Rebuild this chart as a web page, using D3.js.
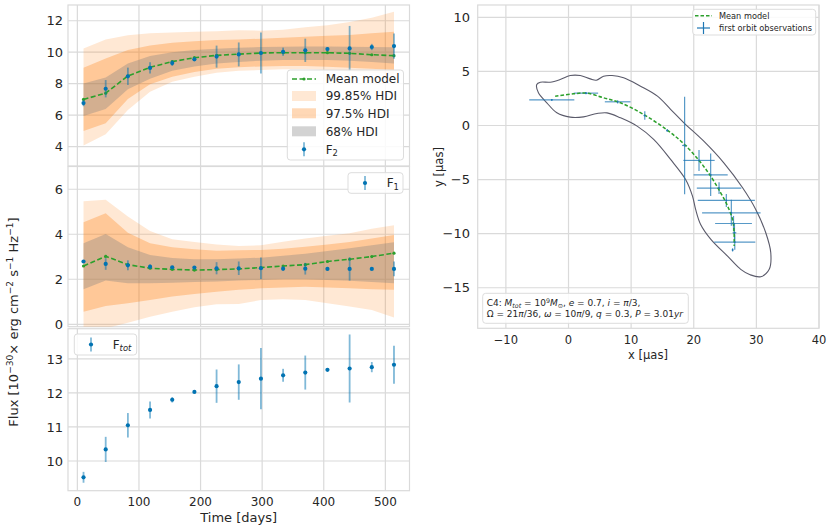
<!DOCTYPE html>
<html>
<head>
<meta charset="utf-8">
<script src="https://cdn.jsdelivr.net/npm/d3@7"></script>
<style>
  body { margin: 0; background: #fff; }
  text { font-family: "DejaVu Sans", sans-serif; fill: #262626; }
</style>
</head>
<body>
<div id="chart"></div>
<script>
// ---- data ----
const days = [10, 46, 82, 118, 154, 190, 226, 262, 298, 334, 370, 406, 442, 478, 514];

// F2 panel
const f2Obs = [6.77, 7.68, 8.47, 9.0, 9.31, 9.55, 9.72, 9.86, 9.95, 10.03, 10.12, 10.2, 10.24, 10.33, 10.39];
const f2Err = [0.2, 0.55, 0.55, 0.36, 0.18, 0.1, 0.7, 0.76, 1.31, 0.26, 0.74, 0.1, 1.43, 0.2, 0.8];
const f2Mean = [7.0, 7.4, 8.49, 9.04, 9.4, 9.65, 9.8, 9.88, 9.95, 9.97, 9.97, 9.97, 9.93, 9.84, 9.78];
const f2Lo68 = [5.95, 6.39, 7.64, 8.32, 8.83, 9.1, 9.29, 9.38, 9.46, 9.5, 9.5, 9.5, 9.46, 9.38, 9.29];
const f2Hi68 = [8.02, 8.4, 9.29, 9.76, 9.99, 10.14, 10.22, 10.29, 10.33, 10.35, 10.37, 10.37, 10.35, 10.33, 10.31];
const f2Lo975 = [5.0, 5.48, 7.03, 7.96, 8.44, 8.74, 8.95, 9.04, 9.1, 9.12, 9.12, 9.08, 9.02, 8.95, 8.87];
const f2Hi975 = [9.02, 9.6, 10.14, 10.43, 10.6, 10.7, 10.77, 10.81, 10.86, 10.92, 10.98, 11.05, 11.1, 11.2, 11.3];
const f2Lo9985 = [4.08, 4.78, 6.33, 7.49, 8.13, 8.44, 8.7, 8.83, 8.87, 8.91, 8.91, 8.87, 8.78, 8.7, 8.61];
const f2Hi9985 = [10.24, 10.81, 11.07, 11.2, 11.26, 11.3, 11.34, 11.39, 11.37, 11.43, 11.58, 11.72, 11.92, 12.19, 12.57];

// F1 panel
const f1Obs = [2.79, 2.68, 2.62, 2.56, 2.53, 2.52, 2.49, 2.49, 2.49, 2.47, 2.47, 2.46, 2.46, 2.46, 2.46];
const f1Err = [0.05, 0.26, 0.22, 0.1, 0.06, 0.06, 0.27, 0.3, 0.48, 0.1, 0.26, 0.04, 0.52, 0.05, 0.33];
const f1Mean = [2.59, 3.02, 2.65, 2.49, 2.44, 2.41, 2.43, 2.46, 2.52, 2.59, 2.65, 2.79, 2.89, 3.01, 3.16];
const f1Lo68 = [1.56, 1.94, 1.82, 1.82, 1.85, 1.88, 1.9, 1.94, 1.97, 2.0, 2.0, 1.97, 1.93, 1.88, 1.82];
const f1Hi68 = [3.6, 4.01, 3.42, 3.08, 2.95, 2.89, 2.89, 2.92, 2.96, 3.04, 3.13, 3.26, 3.38, 3.51, 3.64];
const f1Lo975 = [0.56, 0.81, 0.93, 1.08, 1.23, 1.35, 1.45, 1.53, 1.6, 1.63, 1.67, 1.64, 1.6, 1.56, 1.53];
const f1Hi975 = [4.53, 4.93, 4.07, 3.6, 3.42, 3.33, 3.27, 3.29, 3.3, 3.36, 3.44, 3.54, 3.66, 3.81, 3.97];
const f1Lo9985 = [-0.18, -0.18, 0.07, 0.34, 0.56, 0.76, 0.89, 0.9, 1.08, 1.11, 1.08, 0.93, 0.79, 0.64, 0.3];
const f1Hi9985 = [5.47, 5.53, 4.79, 4.15, 3.78, 3.66, 3.54, 3.48, 3.51, 3.67, 3.81, 3.93, 4.04, 4.24, 4.4];

// Ftot panel
const ftotObs = [9.52, 10.34, 11.05, 11.5, 11.8, 12.03, 12.2, 12.32, 12.42, 12.52, 12.6, 12.68, 12.72, 12.76, 12.83];
const ftotErr = [0.16, 0.37, 0.36, 0.25, 0.08, 0.03, 0.49, 0.52, 0.9, 0.19, 0.5, 0.03, 1.0, 0.15, 0.56];

// orbit panel
const obsX = [-2.67, 2.78, 7.85, 12.18, 15.77, 18.54, 20.84, 22.7, 24.04, 25.2, 26.0, 26.35, 26.5, 26.55, 26.2];
const obsY = [2.37, 2.99, 2.19, 0.92, -0.46, -1.85, -3.23, -4.56, -5.79, -6.93, -8.07, -9.06, -9.92, -10.78, -11.5];
const obsXErr = [3.6, 1.95, 2.05, 0.2, 0.15, 0.4, 2.5, 2.72, 3.55, 4.56, 4.67, 2.94, 0.3, 3.28, 0.1];
const obsYErr = [0.08, 0.1, 0.15, 0.4, 0.12, 4.5, 0.97, 1.97, 0.55, 0.6, 1.2, 0.7, 0.9, 0.7, 0.15];

const modelX = [-2.13, 0.8, 2.94, 5.6, 8.3, 12.0, 15.77, 18.4, 20.84, 22.7, 24.3, 25.4, 26.2, 26.45, 26.45];
const modelY = [2.71, 2.93, 2.99, 2.56, 2.1, 1.02, -0.43, -1.69, -3.23, -4.68, -6.22, -7.45, -8.69, -9.92, -11.15];

const contourX = [-5.07, -4.5, -2.93, -1.33, 0.27, 1.88, 3.48, 4.44, 5.6, 6.96, 8.8, 11.5, 14.2, 16.3, 18.43, 21.6, 24.8, 27.8, 29.9, 31.5, 32.3, 32.05, 30.7, 29.0, 27.5, 25.4, 22.7, 21.1, 20.3, 19.8, 18.7, 16.3, 13.6, 10.96, 8.3, 6.15, 4.55, 2.4, 0.27, -1.86, -3.46, -4.8];
const contourY = [3.79, 4.0, 4.0, 4.25, 4.62, 4.62, 4.31, 4.19, 4.56, 4.62, 4.41, 3.63, 2.71, 1.5, 0.25, -1.45, -3.45, -5.76, -7.76, -9.92, -11.77, -13.3, -13.98, -13.8, -13.3, -12.08, -10.5, -9.15, -7.76, -6.53, -4.99, -3.14, -1.29, -0.06, 0.71, 1.17, 1.11, 0.8, 0.77, 1.17, 2.1, 3.02];

const timeTicks = [0, 100, 200, 300, 400, 500];
const f2Ticks = [4, 6, 8, 10, 12];
const f1Ticks = [0, 2, 4, 6];
const ftotTicks = [10, 11, 12, 13];
const orbXTicks = [-10, 0, 10, 20, 30, 40];
const orbYTicks = [-15, -10, -5, 0, 5, 10];

// ---- styling ----
const gridColor = "#dadada";
const blue = "#0173b2";
const green = "#2ca02c";
const orange = "#ff7f0e";

var svg = d3.select("#chart").append("svg")
  .attr("width", 831)
  .attr("height", 530);

// write text with sub/superscripts and italics
function rich(sel, parts, size) {
  var cur = 0;
  parts.forEach(p => {
    var shift = p.sup ? -size * 0.38 : (p.sub ? size * 0.22 : 0);
    var ts = sel.append("tspan").text(p.t).attr("dy", shift - cur);
    if (p.sup || p.sub) ts.attr("font-size", size * 0.7);
    if (p.it) ts.attr("font-style", "italic");
    cur = shift;
  });
}

var xTime = d3.scaleLinear().domain([-15.2, 539.2]).range([68, 409.5]);

function framePanel(y, ticks, top, bottom, showX) {
  var g = svg.append("g");
  g.selectAll(".hg").data(ticks).enter().append("line")
    .attr("x1", 68).attr("x2", 409.5)
    .attr("y1", d => y(d)).attr("y2", d => y(d))
    .attr("stroke", gridColor).attr("stroke-width", 1.2);
  g.selectAll(".vg").data(timeTicks).enter().append("line")
    .attr("x1", d => xTime(d)).attr("x2", d => xTime(d))
    .attr("y1", top).attr("y2", bottom)
    .attr("stroke", gridColor).attr("stroke-width", 1.2);
  g.append("rect")
    .attr("x", 68).attr("y", top).attr("width", 409.5 - 68).attr("height", bottom - top)
    .attr("fill", "none").attr("stroke", gridColor).attr("stroke-width", 1.2);
  g.selectAll(".yl").data(ticks).enter().append("text")
    .attr("x", 63).attr("y", d => y(d)).attr("dy", "0.36em")
    .attr("text-anchor", "end").attr("font-size", 13)
    .text(d => d);
  if (showX) {
    g.selectAll(".xl").data(timeTicks).enter().append("text")
      .attr("x", d => xTime(d)).attr("y", 506)
      .attr("text-anchor", "middle").attr("font-size", 12)
      .text(d => d);
  }
  return g;
}

function bands(g, y, lo9985, hi9985, lo975, hi975, lo68, hi68, top, bottom, id) {
  svg.append("clipPath").attr("id", id).append("rect")
    .attr("x", 68).attr("y", top).attr("width", 341.5).attr("height", bottom - top);
  var c = g.append("g").attr("clip-path", `url(#${id})`);
  var area = (lo, hi) => d3.area()
    .x((d, i) => xTime(days[i]))
    .y0((d, i) => y(lo[i]))
    .y1((d, i) => y(hi[i]))(days);
  c.append("path").attr("d", area(lo9985, hi9985)).attr("fill", orange).attr("fill-opacity", 0.18);
  c.append("path").attr("d", area(lo975, hi975)).attr("fill", orange).attr("fill-opacity", 0.3);
  c.append("path").attr("d", area(lo68, hi68)).attr("fill", "#808080").attr("fill-opacity", 0.35);
}

function meanLine(g, y, vals) {
  g.append("path")
    .attr("d", d3.line().x((d, i) => xTime(days[i])).y(d => y(d))(vals))
    .attr("fill", "none").attr("stroke", green).attr("stroke-width", 1.6)
    .attr("stroke-dasharray", "5,2.5");
  g.selectAll(".md").data(vals).enter().append("circle")
    .attr("cx", (d, i) => xTime(days[i])).attr("cy", d => y(d))
    .attr("r", 1.6).attr("fill", green);
}

function errPoints(g, y, vals, errs) {
  g.selectAll(".eb").data(vals).enter().append("line")
    .attr("x1", (d, i) => xTime(days[i])).attr("x2", (d, i) => xTime(days[i]))
    .attr("y1", (d, i) => y(d - errs[i])).attr("y2", (d, i) => y(d + errs[i]))
    .attr("stroke", blue).attr("stroke-opacity", 0.5).attr("stroke-width", 1.8);
  g.selectAll(".pt").data(vals).enter().append("circle")
    .attr("cx", (d, i) => xTime(days[i])).attr("cy", d => y(d))
    .attr("r", 2.1).attr("fill", blue);
}

function legendBox(x, y, w, h) {
  svg.append("rect").attr("x", x).attr("y", y).attr("width", w).attr("height", h)
    .attr("rx", 3).attr("fill", "#fff").attr("fill-opacity", 0.85)
    .attr("stroke", "#dddddd").attr("stroke-width", 1);
}

function errHandle(x, y) {
  svg.append("line").attr("x1", x).attr("x2", x).attr("y1", y - 7).attr("y2", y + 7)
    .attr("stroke", blue).attr("stroke-opacity", 0.5).attr("stroke-width", 1.8);
  svg.append("circle").attr("cx", x).attr("cy", y).attr("r", 2.1).attr("fill", blue);
}

// ---- panel 1: F2 ----
var y1 = d3.scaleLinear().domain([2.77, 13.0]).range([166, 5]);
var p1 = framePanel(y1, f2Ticks, 5, 166, false);
bands(p1, y1, f2Lo9985, f2Hi9985, f2Lo975, f2Hi975, f2Lo68, f2Hi68, 5, 166, "c1");
meanLine(p1, y1, f2Mean);
errPoints(p1, y1, f2Obs, f2Err);

// ---- panel 2: F1 ----
var y2 = d3.scaleLinear().domain([-0.107, 7.01]).range([326.7, 166.5]);
var p2 = framePanel(y2, f1Ticks, 166.5, 326.7, false);
bands(p2, y2, f1Lo9985, f1Hi9985, f1Lo975, f1Hi975, f1Lo68, f1Hi68, 166.5, 326.7, "c2");
meanLine(p2, y2, f1Mean);
errPoints(p2, y2, f1Obs, f1Err);

// ---- panel 3: Ftot ----
var y3 = d3.scaleLinear().domain([9.126, 13.89]).range([490.7, 328.7]);
var p3 = framePanel(y3, ftotTicks, 328.7, 490.7, true);
errPoints(p3, y3, ftotObs, ftotErr);

// legend F2 panel
legendBox(287.3, 70, 116.2, 90);
var legRows = [79, 96, 113.3, 131.3, 149.3];
svg.append("line").attr("x1", 292).attr("x2", 316).attr("y1", legRows[0]).attr("y2", legRows[0])
  .attr("stroke", green).attr("stroke-width", 1.6).attr("stroke-dasharray", "5,2.5");
svg.append("circle").attr("cx", 304).attr("cy", legRows[0]).attr("r", 1.6).attr("fill", green);
[[0.18, orange], [0.3, orange], [0.35, "#808080"]].forEach((s, i) => {
  svg.append("rect").attr("x", 292).attr("y", legRows[i + 1] - 5).attr("width", 24).attr("height", 10)
    .attr("fill", s[1]).attr("fill-opacity", s[0]);
});
errHandle(304, legRows[4]);
["Mean model", "99.85% HDI", "97.5% HDI", "68% HDI"].forEach((t, i) => {
  svg.append("text").attr("x", 325.7).attr("y", legRows[i]).attr("dy", "0.36em")
    .attr("font-size", 12).text(t);
});
rich(svg.append("text").attr("x", 325.7).attr("y", legRows[4] + 4.3).attr("font-size", 12),
  [{t: "F"}, {t: "2", sub: true}], 12);

// legend F1
legendBox(348, 172.7, 55, 20.6);
errHandle(365, 183);
rich(svg.append("text").attr("x", 386.7).attr("y", 187.3).attr("font-size", 12),
  [{t: "F"}, {t: "1", sub: true}], 12);

// legend Ftot
legendBox(74.3, 334, 62.4, 21);
errHandle(91, 344.5);
rich(svg.append("text").attr("x", 112.7).attr("y", 348.8).attr("font-size", 12),
  [{t: "F"}, {t: "tot", sub: true, it: true}], 12);

// axis labels, left column
svg.append("text").attr("x", 238.7).attr("y", 521.5).attr("text-anchor", "middle")
  .attr("font-size", 13).text("Time [days]");
rich(svg.append("text").attr("text-anchor", "middle").attr("font-size", 13)
    .attr("transform", "translate(18, 322)rotate(-90)"),
  [{t: "Flux [10"}, {t: "−30", sup: true}, {t: "× erg cm"}, {t: "−2", sup: true},
   {t: " s"}, {t: "−1", sup: true}, {t: " Hz"}, {t: "−1", sup: true}, {t: "]"}], 13);

// ---- orbit panel ----
var xo = d3.scaleLinear().domain([-14.5, 40]).range([477.7, 819]);
var yo = d3.scaleLinear().domain([-18.75, 11.14]).range([328.3, 5]);

var po = svg.append("g");
po.selectAll(".hg").data(orbYTicks).enter().append("line")
  .attr("x1", 477.7).attr("x2", 819).attr("y1", d => yo(d)).attr("y2", d => yo(d))
  .attr("stroke", gridColor).attr("stroke-width", 1.2);
po.selectAll(".vg").data(orbXTicks).enter().append("line")
  .attr("x1", d => xo(d)).attr("x2", d => xo(d)).attr("y1", 5).attr("y2", 328.3)
  .attr("stroke", gridColor).attr("stroke-width", 1.2);
po.append("rect").attr("x", 477.7).attr("y", 5).attr("width", 819 - 477.7).attr("height", 323.3)
  .attr("fill", "none").attr("stroke", gridColor).attr("stroke-width", 1.2);
po.selectAll(".yl").data(orbYTicks).enter().append("text")
  .attr("x", 470).attr("y", d => yo(d)).attr("dy", "0.36em")
  .attr("text-anchor", "end").attr("font-size", 13)
  .text(d => d < 0 ? "−" + Math.abs(d) : d);
po.selectAll(".xl").data(orbXTicks).enter().append("text")
  .attr("x", d => xo(d)).attr("y", 344)
  .attr("text-anchor", "middle").attr("font-size", 11.5)
  .text(d => d < 0 ? "−" + Math.abs(d) : d);

// contour of the posterior orbit
po.append("path")
  .attr("d", d3.line().curve(d3.curveCatmullRomClosed)
    .x((d, i) => xo(d)).y((d, i) => yo(contourY[i]))(contourX))
  .attr("fill", "none").attr("stroke", "#5a5a6a").attr("stroke-width", 1.1);

// observations
po.selectAll(".ox").data(obsX).enter().append("line")
  .attr("x1", (d, i) => xo(d - obsXErr[i])).attr("x2", (d, i) => xo(d + obsXErr[i]))
  .attr("y1", (d, i) => yo(obsY[i])).attr("y2", (d, i) => yo(obsY[i]))
  .attr("stroke", "#1f77b4").attr("stroke-opacity", 0.75).attr("stroke-width", 1.2);
po.selectAll(".oy").data(obsX).enter().append("line")
  .attr("x1", d => xo(d)).attr("x2", d => xo(d))
  .attr("y1", (d, i) => yo(obsY[i] - obsYErr[i])).attr("y2", (d, i) => yo(obsY[i] + obsYErr[i]))
  .attr("stroke", "#1f77b4").attr("stroke-opacity", 0.75).attr("stroke-width", 1.2);

// mean model orbit
po.append("path")
  .attr("d", d3.line().curve(d3.curveCatmullRom)
    .x(d => xo(d)).y((d, i) => yo(modelY[i]))(modelX))
  .attr("fill", "none").attr("stroke", green).attr("stroke-width", 1.5)
  .attr("stroke-dasharray", "3.5,2");

po.selectAll(".od").data(obsX).enter().append("circle")
  .attr("cx", d => xo(d)).attr("cy", (d, i) => yo(obsY[i]))
  .attr("r", 0.9).attr("fill", "#1f77b4");

// orbit legend
legendBox(692.7, 9.3, 123, 25.7);
svg.append("line").attr("x1", 695).attr("x2", 712).attr("y1", 15.7).attr("y2", 15.7)
  .attr("stroke", green).attr("stroke-width", 1.5).attr("stroke-dasharray", "3.5,2");
svg.append("line").attr("x1", 697).attr("x2", 710).attr("y1", 28).attr("y2", 28)
  .attr("stroke", "#1f77b4").attr("stroke-width", 1.2);
svg.append("line").attr("x1", 703.5).attr("x2", 703.5).attr("y1", 22).attr("y2", 34)
  .attr("stroke", "#1f77b4").attr("stroke-width", 1.2);
svg.append("text").attr("x", 719).attr("y", 15.7).attr("dy", "0.36em").attr("font-size", 8.2).text("Mean model");
svg.append("text").attr("x", 719).attr("y", 28).attr("dy", "0.36em").attr("font-size", 8.2).text("first orbit observations");

// parameter box
legendBox(482.7, 293.3, 205.6, 30);
rich(svg.append("text").attr("x", 486.7).attr("y", 306.3).attr("font-size", 9),
  [{t: "C4: "}, {t: "M", it: true}, {t: "tot", sub: true, it: true}, {t: " = 10"}, {t: "9", sup: true},
   {t: "M", it: true}, {t: "⊙", sub: true}, {t: ", "}, {t: "e", it: true}, {t: " = 0.7, "},
   {t: "i", it: true}, {t: " = "}, {t: "π", it: true}, {t: "/3,"}], 9);
rich(svg.append("text").attr("x", 486.7).attr("y", 317.3).attr("font-size", 9),
  [{t: "Ω = 21"}, {t: "π", it: true}, {t: "/36, "}, {t: "ω", it: true}, {t: " = 10"}, {t: "π", it: true},
   {t: "/9, "}, {t: "q", it: true}, {t: " = 0.3, "}, {t: "P", it: true}, {t: " = 3.01"}, {t: "yr", it: true}], 9);

// orbit axis labels
svg.append("text").attr("x", 648).attr("y", 359).attr("text-anchor", "middle")
  .attr("font-size", 11.5).text("x [μas]");
svg.append("text").attr("text-anchor", "middle").attr("font-size", 11.5)
  .attr("transform", "translate(443, 167)rotate(-90)")
  .text("y [μas]");
</script>
</body>
</html>
